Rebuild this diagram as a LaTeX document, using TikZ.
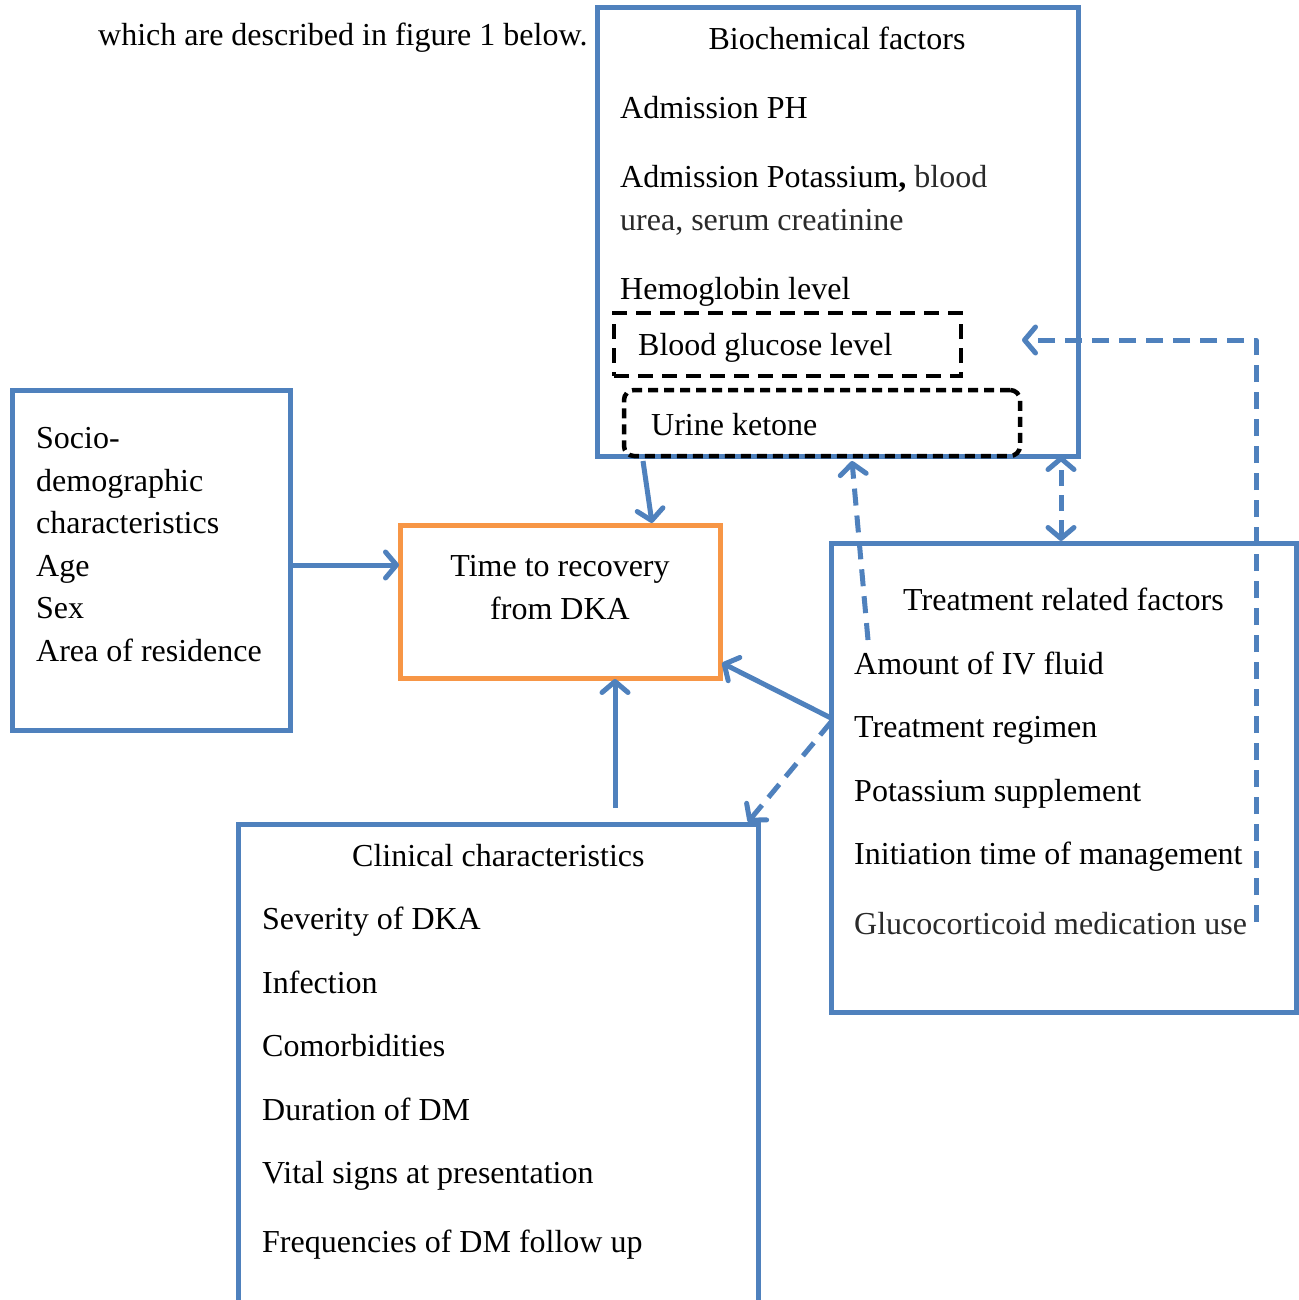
\documentclass[tikz,border=0pt]{standalone}
\usepackage{fontspec}
\setmainfont{Liberation Serif}
\usetikzlibrary{arrows.meta}
\definecolor{bl}{HTML}{4F81BD}
\definecolor{orng}{HTML}{F79646}
\definecolor{dg}{HTML}{2A2A2A}
\tikzset{
  box/.style={draw=bl, line width=5pt, rectangle, inner sep=0pt},
  obox/.style={draw=orng, line width=5pt, rectangle, inner sep=0pt},
  kbox/.style={draw=black, line width=4.5pt, rectangle, inner sep=0pt},
  txt/.style={anchor=base west, inner sep=0pt, font=\fontsize{32}{40}\selectfont},
  ctxt/.style={anchor=base, inner sep=0pt, font=\fontsize{32}{40}\selectfont},
  tip/.tip={Straight Barb[length=11pt,width=26pt,line cap=round,line join=round]},
  arr/.style={draw=bl, line width=5pt, -tip},
  darr/.style={arr, dash pattern=on 17pt off 10pt},
}
\begin{document}
\begin{tikzpicture}[x=1pt,y=-1pt]
\useasboundingbox (0,0) rectangle (1298,1300);
\fill[white] (0,0) rectangle (1298,1300);

% boxes
\node[box, minimum width=481pt, minimum height=448pt] (bio) at (837.5,232) {};
\node[kbox, dash pattern=on 15pt off 9pt, minimum width=347pt, minimum height=63pt] (glu) at (787.5,344.5) {};
\node[kbox, dash pattern=on 10pt off 6pt, rounded corners=10pt, minimum width=396pt, minimum height=66pt] (ket) at (822,423) {};
\node[box, minimum width=278pt, minimum height=340pt] (socio) at (151,560) {};
\node[obox, minimum width=320pt, minimum height=153pt] (time) at (560,601.5) {};
\node[box, minimum width=465pt, minimum height=469pt] (treat) at (1063.5,777.5) {};
\node[box, minimum width=520pt, minimum height=486pt] (clin) at (498,1067) {};

% texts
\node[txt] (intro) at (98,46) {which are described in figure 1 below.};
\node[ctxt] (biot) at (837,50) {Biochemical factors};
\node[txt] (b1) at (620,119) {Admission PH};
\node[txt] (b2) at (620,188) {Admission Potassium\textbf{,} \textcolor{dg}{blood}};
\node[txt, text=dg] (b3) at (620,230) {urea, serum creatinine};
\node[txt] (b4) at (620,299) {Hemoglobin level};
\node[txt] (glut) at (638,355) {Blood glucose level};
\node[txt] (kett) at (651,435) {Urine ketone};

\node[txt] (s1) at (36,448) {Socio-};
\node[txt] (s2) at (36,491) {demographic};
\node[txt] (s3) at (36,533) {characteristics};
\node[txt] (s4) at (36,576) {Age};
\node[txt] (s5) at (36,618) {Sex};
\node[txt] (s6) at (36,661) {Area of residence};

\node[ctxt] (t1) at (560,576) {Time to recovery};
\node[ctxt] (t2) at (560,619) {from DKA};

\node[txt] (r0) at (903,610) {Treatment related factors};
\node[txt] (r1) at (854,674) {Amount of IV fluid};
\node[txt] (r2) at (854,737) {Treatment regimen};
\node[txt] (r3) at (854,801) {Potassium supplement};
\node[txt] (r4) at (854,864) {Initiation time of management};
\node[txt, text=dg] (r5) at (854,934) {Glucocorticoid medication use};

\node[txt] (c0) at (352,866) {Clinical characteristics};
\node[txt] (c1) at (262,929) {Severity of DKA};
\node[txt] (c2) at (262,993) {Infection};
\node[txt] (c3) at (262,1056) {Comorbidities};
\node[txt] (c4) at (262,1120) {Duration of DM};
\node[txt] (c5) at (262,1183) {Vital signs at presentation};
\node[txt] (c6) at (262,1252) {Frequencies of DM follow up};

% connector end points
\coordinate (a1s) at (290,565);   \coordinate (a1e) at (399,565);
\coordinate (a2s) at (643,461);   \coordinate (a2e) at (652,523);
\coordinate (a3s) at (615,808);   \coordinate (a3e) at (615,679);
\coordinate (a4s) at (831,718);   \coordinate (a4e) at (722,663);
\coordinate (a5s) at (831,722);   \coordinate (a5e) at (748,822);
\coordinate (a6s) at (868,640);   \coordinate (a6e) at (852,461);
\coordinate (a7s) at (1061,541);  \coordinate (a7e) at (1061,456);
\coordinate (a8s) at (1256,922);  \coordinate (a8m) at (1256,340); \coordinate (a8e) at (1022,340);

\draw[arr] (a1s) -- (a1e);
\draw[arr] (a2s) -- (a2e);
\draw[arr] (a3s) -- (a3e);
\draw[arr] (a4s) -- (a4e);
\draw[darr] (a5s) -- (a5e);
\draw[darr] (a6s) -- (a6e);
\draw[darr, tip-tip, dash pattern=on 16pt off 9pt] (a7s) -- (a7e);
\draw[darr, line join=round] (a8s) -- (a8m) -- (a8e);
\end{tikzpicture}
\end{document}
